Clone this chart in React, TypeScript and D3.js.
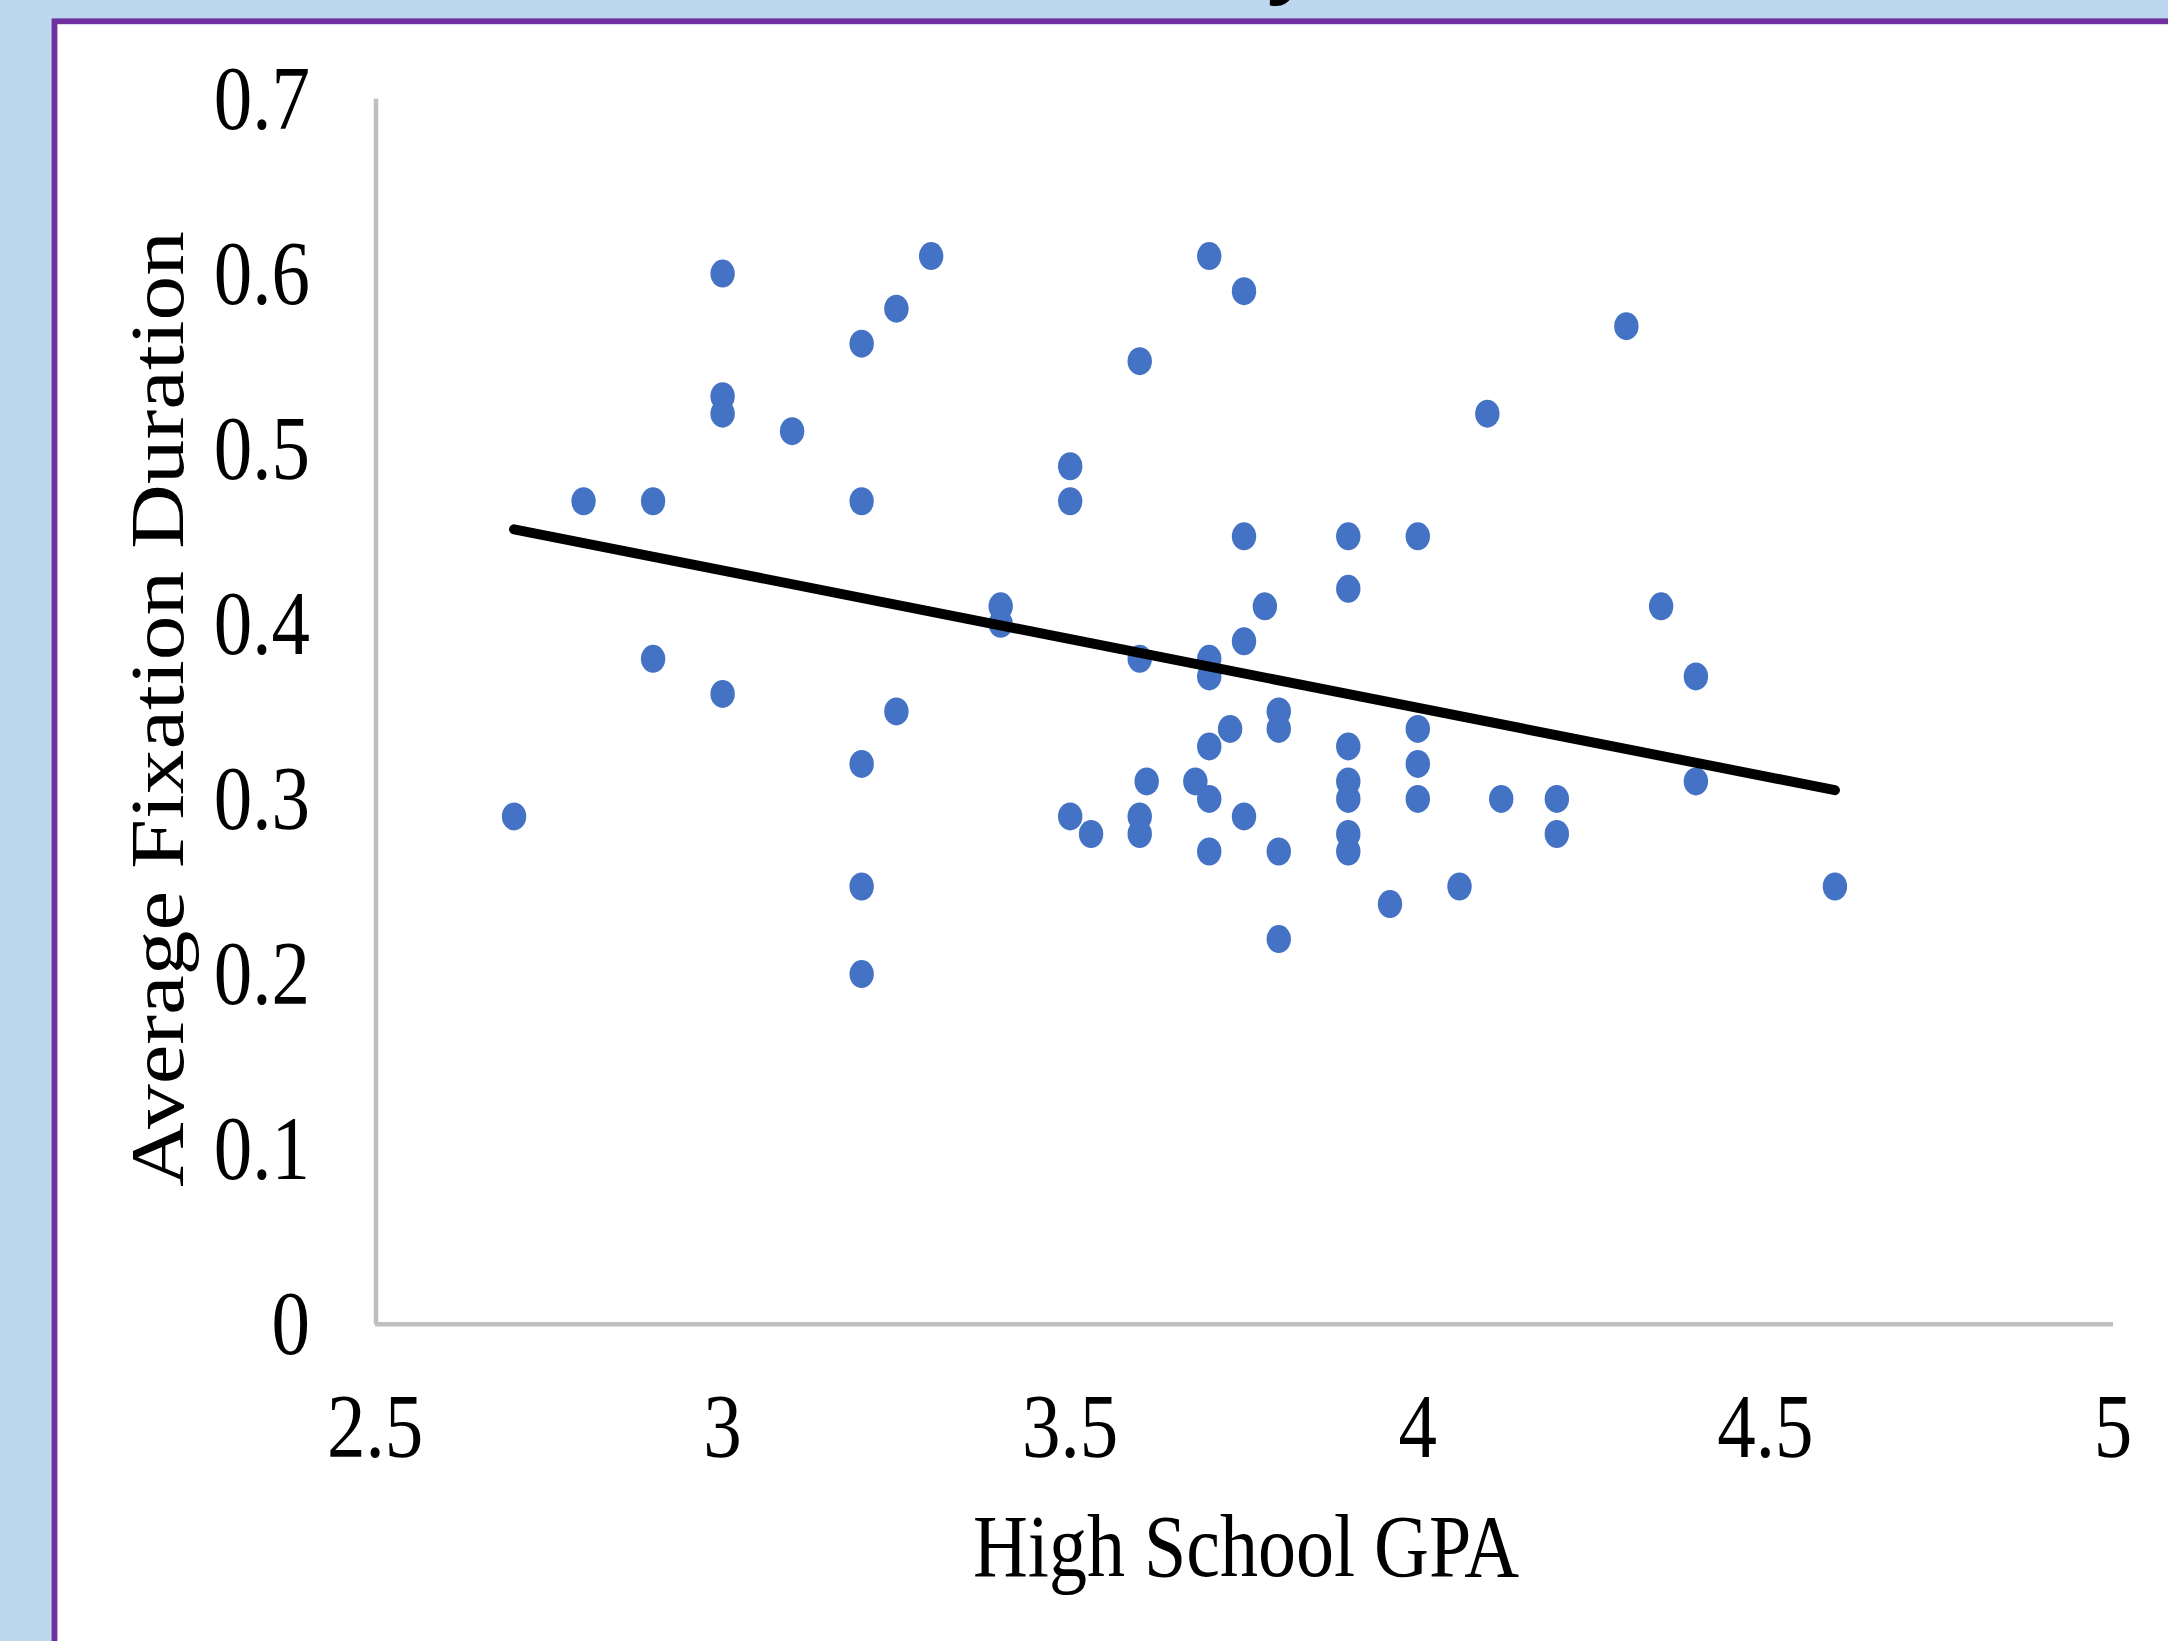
import React from "react";
import * as d3 from "d3";

// scatter data: high school GPA vs average fixation duration
const gpa = [
  2.7, 2.8, 2.9, 2.9, 3.0, 3.0, 3.0, 3.0, 3.1, 3.2, 3.2, 3.2, 3.2, 3.2, 3.25, 3.25, 3.3,
  3.4, 3.4, 3.5, 3.5, 3.5, 3.53, 3.6, 3.6, 3.6, 3.6, 3.61, 3.68, 3.7, 3.7, 3.7, 3.7, 3.7,
  3.7, 3.73, 3.75, 3.75, 3.75, 3.75, 3.78, 3.8, 3.8, 3.8, 3.8, 3.9, 3.9, 3.9, 3.9, 3.9,
  3.9, 3.9, 3.96, 4.0, 4.0, 4.0, 4.0, 4.06, 4.1, 4.12, 4.2, 4.2, 4.3, 4.35, 4.4, 4.4, 4.6,
];
const fixation = [
  0.29, 0.47, 0.47, 0.38, 0.6, 0.53, 0.52, 0.36, 0.51, 0.56, 0.47, 0.32, 0.25, 0.2, 0.58, 0.35, 0.61,
  0.41, 0.4, 0.49, 0.47, 0.29, 0.28, 0.55, 0.38, 0.29, 0.28, 0.31, 0.31, 0.61, 0.38, 0.37, 0.33, 0.3,
  0.27, 0.34, 0.59, 0.45, 0.39, 0.29, 0.41, 0.35, 0.34, 0.27, 0.22, 0.45, 0.42, 0.33, 0.31, 0.3,
  0.28, 0.27, 0.24, 0.45, 0.34, 0.32, 0.3, 0.25, 0.52, 0.3, 0.3, 0.28, 0.57, 0.41, 0.37, 0.31, 0.25,
];

// linear trendline end points
const trendGpa = [2.7, 4.6];
const trendFixation = [0.454, 0.305];

const xTicks = [2.5, 3, 3.5, 4, 4.5, 5];
const yTicks = [0, 0.1, 0.2, 0.3, 0.4, 0.5, 0.6, 0.7];

const xTitle = "High School GPA";
const yTitle = "Average Fixation Duration";
const slideTitle = "Study";

const width = 2168;
const height = 1641;
const serif = "'Liberation Serif', 'Times New Roman', serif";
const stretch = 1.18; // source image is a bit taller than wide

const App = () => {
  const x = d3.scaleLinear().domain([2.5, 5]).range([375, 2113]);
  const y = d3.scaleLinear().domain([0, 0.7]).range([1324.3, 98.5]);

  const points = gpa.map((g, i) => [g, fixation[i]]);
  const trend = trendGpa.map((g, i) => [g, trendFixation[i]]);
  const line = d3
    .line()
    .x((d) => x(d[0]))
    .y((d) => y(d[1]));

  return (
    <svg
      width={width}
      height={height}
      style={{ position: "absolute", left: 0, top: 0, display: "block" }}
    >
      <rect x={0} y={0} width={width} height={height} fill="#BDD7EE" />

      {/* slide title, only the descender shows above the frame */}
      <text
        x={1040}
        y={-17}
        fontFamily="'Liberation Sans', Arial, sans-serif"
        fontSize={110}
        fill="#000"
      >
        {slideTitle}
      </text>

      {/* content frame */}
      <rect
        x={54.5}
        y={21.3}
        width={2300}
        height={1800}
        fill="#fff"
        stroke="#7030A0"
        strokeWidth={5.8}
      />

      {/* axes */}
      <line x1={x(2.5)} x2={x(5)} y1={y(0)} y2={y(0)} stroke="#BFBFBF" strokeWidth={4.5} />
      <line x1={x(2.5) + 1} x2={x(2.5) + 1} y1={y(0.7)} y2={y(0)} stroke="#BFBFBF" strokeWidth={4.5} />

      {xTicks.map((t) => (
        <text
          key={"x" + t}
          transform={`translate(${x(t)},1457) scale(1,${stretch})`}
          textAnchor="middle"
          fontFamily={serif}
          fontSize={77}
          fill="#000"
        >
          {String(t)}
        </text>
      ))}

      {yTicks.map((t) => (
        <text
          key={"y" + t}
          transform={`translate(310,${y(t) + 30}) scale(1,${stretch})`}
          textAnchor="end"
          fontFamily={serif}
          fontSize={77}
          fill="#000"
        >
          {String(t)}
        </text>
      ))}

      {/* axis titles */}
      <text
        transform={`translate(1246,1576) scale(1,${stretch})`}
        textAnchor="middle"
        fontFamily={serif}
        fontSize={76}
        fill="#000"
      >
        {xTitle}
      </text>
      <text
        transform={`translate(183,709) scale(1,1.16) rotate(-90)`}
        textAnchor="middle"
        fontFamily={serif}
        fontSize={77}
        fill="#000"
      >
        {yTitle}
      </text>

      {/* points */}
      {points.map((d, i) => (
        <ellipse key={i} cx={x(d[0])} cy={y(d[1])} rx={12.2} ry={14} fill="#4472C4" />
      ))}

      {/* trendline */}
      <path d={line(trend)} fill="none" stroke="#000" strokeWidth={10} strokeLinecap="round" />
    </svg>
  );
};

export default App;
